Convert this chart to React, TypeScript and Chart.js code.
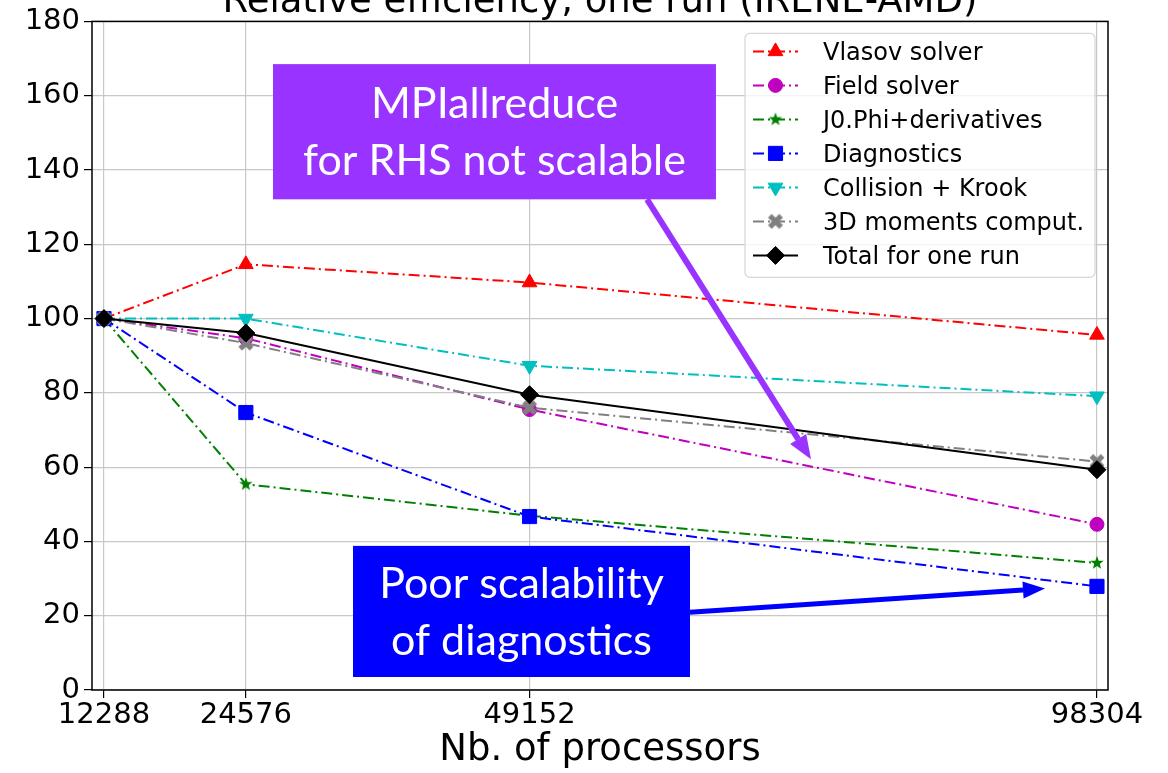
import React, { useEffect, useRef } from 'react';
import { Chart, registerables } from 'chart.js';

Chart.register(...registerables);

// ---- data -------------------------------------------------------------
const processors = [12288, 24576, 49152, 98304];
const xTickValues = [12288, 24576, 49152, 98304];
const yTickValues = [0, 20, 40, 60, 80, 100, 120, 140, 160, 180];

const seriesLabels = [
  'Vlasov solver',
  'Field solver',
  'J0.Phi+derivatives',
  'Diagnostics',
  'Collision + Krook',
  '3D moments comput.',
  'Total for one run',
];

const vlasovSolver = [100, 114.6, 109.7, 95.6];
const fieldSolver = [100, 94.7, 75.5, 44.6];
const j0PhiDerivatives = [100, 55.4, 46.9, 34.2];
const diagnostics = [100, 74.7, 46.7, 27.9];
const collisionKrook = [100, 100, 87.3, 79.1];
const moments3d = [100, 93.4, 76.0, 61.5];
const totalOneRun = [100, 96.1, 79.5, 59.3];

const titleText = 'Relative efficiency, one run (IRENE-AMD)';
const xAxisTitle = 'Nb. of processors';

// callouts, anchored in data units (processors, efficiency %)
const rhsCalloutLines = ['MPIallreduce', 'for RHS not scalable'];
const rhsCalloutBox = [26930, 65300, 168.5, 132.1]; // xMin, xMax, yMax, yMin
const rhsArrowFrom = [59330, 132.1];
const rhsArrowTo = [73530, 62.1];

const diagCalloutLines = ['Poor scalability', 'of diagnostics'];
const diagCalloutBox = [33860, 63050, 38.8, 3.5];
const diagArrowFrom = [63050, 20.9];
const diagArrowTo = [93800, 27.3];

// ---- styles -----------------------------------------------------------
const DEJAVU = "'DejaVu Sans', sans-serif";
const CALLOUT_FONT = "Lato, 'Open Sans', sans-serif";
const DASH_DOT = [11, 4, 2, 4];

function markerCanvas(size: number, draw: (ctx: CanvasRenderingContext2D) => void) {
  const c = document.createElement('canvas');
  c.width = size;
  c.height = size;
  const ctx = c.getContext('2d') as CanvasRenderingContext2D;
  ctx.translate(size / 2, size / 2);
  draw(ctx);
  return c;
}

function starMarker(color: string) {
  return markerCanvas(16, (ctx) => {
    ctx.beginPath();
    for (let i = 0; i < 10; i++) {
      const r = i % 2 === 0 ? 7 : 2.9;
      const a = -Math.PI / 2 + (i * Math.PI) / 5;
      ctx.lineTo(r * Math.cos(a), r * Math.sin(a));
    }
    ctx.closePath();
    ctx.fillStyle = color;
    ctx.fill();
  });
}

function filledXMarker(color: string) {
  return markerCanvas(18, (ctx) => {
    ctx.rotate(Math.PI / 4);
    const L = 8;
    const t = 2.6;
    ctx.beginPath();
    ctx.moveTo(-t, -L);
    ctx.lineTo(t, -L);
    ctx.lineTo(t, -t);
    ctx.lineTo(L, -t);
    ctx.lineTo(L, t);
    ctx.lineTo(t, t);
    ctx.lineTo(t, L);
    ctx.lineTo(-t, L);
    ctx.lineTo(-t, t);
    ctx.lineTo(-L, t);
    ctx.lineTo(-L, -t);
    ctx.lineTo(-t, -t);
    ctx.closePath();
    ctx.fillStyle = color;
    ctx.fill();
  });
}

type SeriesStyle = {
  color: string;
  dash: number[];
  pointStyle: any;
  radius: number;
  rotation: number;
};

function seriesStyles(): SeriesStyle[] {
  return [
    { color: '#ff0000', dash: DASH_DOT, pointStyle: 'triangle', radius: 8.5, rotation: 0 },
    { color: '#bf00bf', dash: DASH_DOT, pointStyle: 'circle', radius: 7, rotation: 0 },
    { color: '#008000', dash: DASH_DOT, pointStyle: starMarker('#008000'), radius: 7, rotation: 0 },
    { color: '#0000ff', dash: DASH_DOT, pointStyle: 'rect', radius: 10, rotation: 0 },
    { color: '#00bfbf', dash: DASH_DOT, pointStyle: 'triangle', radius: 8.5, rotation: 180 },
    { color: '#808080', dash: DASH_DOT, pointStyle: filledXMarker('#808080'), radius: 7, rotation: 0 },
    { color: '#000000', dash: [], pointStyle: 'rectRot', radius: 9, rotation: 0 },
  ];
}

// ---- drawing helpers --------------------------------------------------
function drawMarker(ctx: CanvasRenderingContext2D, style: SeriesStyle, x: number, y: number) {
  const ps = style.pointStyle;
  ctx.save();
  ctx.translate(x, y);
  ctx.rotate((style.rotation * Math.PI) / 180);
  ctx.fillStyle = style.color;
  ctx.strokeStyle = style.color;
  ctx.lineWidth = 1;
  const r = style.radius;
  if (typeof ps !== 'string') {
    ctx.drawImage(ps, -ps.width / 2, -ps.height / 2);
    ctx.restore();
    return;
  }
  ctx.beginPath();
  if (ps === 'circle') {
    ctx.arc(0, 0, r, 0, Math.PI * 2);
  } else if (ps === 'triangle') {
    for (let i = 0; i < 3; i++) {
      const a = (i * 2 * Math.PI) / 3;
      ctx.lineTo(Math.sin(a) * r, -Math.cos(a) * r);
    }
  } else if (ps === 'rect') {
    const s = Math.SQRT1_2 * r;
    ctx.rect(-s, -s, 2 * s, 2 * s);
  } else if (ps === 'rectRot') {
    ctx.moveTo(-r, 0);
    ctx.lineTo(0, -r);
    ctx.lineTo(r, 0);
    ctx.lineTo(0, r);
  }
  ctx.closePath();
  ctx.fill();
  ctx.stroke();
  ctx.restore();
}

function drawArrow(
  ctx: CanvasRenderingContext2D,
  x0: number, y0: number, x1: number, y1: number,
  color: string, width: number, headLen: number, headWidth: number,
) {
  const ang = Math.atan2(y1 - y0, x1 - x0);
  const bx = x1 - headLen * Math.cos(ang);
  const by = y1 - headLen * Math.sin(ang);
  ctx.save();
  ctx.strokeStyle = color;
  ctx.fillStyle = color;
  ctx.lineWidth = width;
  ctx.beginPath();
  ctx.moveTo(x0, y0);
  ctx.lineTo(bx, by);
  ctx.stroke();
  ctx.beginPath();
  ctx.moveTo(x1, y1);
  ctx.lineTo(bx + (headWidth / 2) * Math.sin(ang), by - (headWidth / 2) * Math.cos(ang));
  ctx.lineTo(bx - (headWidth / 2) * Math.sin(ang), by + (headWidth / 2) * Math.cos(ang));
  ctx.closePath();
  ctx.fill();
  ctx.restore();
}

// ---- plugins ----------------------------------------------------------
const titlePlugin = {
  id: 'cutTitle',
  afterDraw(chart: any) {
    const { ctx, chartArea: a } = chart;
    ctx.save();
    ctx.font = `37px ${DEJAVU}`;
    ctx.fillStyle = '#000';
    ctx.textAlign = 'center';
    ctx.textBaseline = 'alphabetic';
    ctx.fillText(titleText, (a.left + a.right) / 2, a.top - 9);
    ctx.restore();
  },
};

const framePlugin = {
  id: 'frame',
  afterDatasetsDraw(chart: any) {
    const { ctx, chartArea: a } = chart;
    ctx.save();
    ctx.strokeStyle = '#000';
    ctx.lineWidth = 1.5;
    ctx.strokeRect(a.left, a.top, a.right - a.left, a.bottom - a.top);
    ctx.restore();
  },
};

const legendPlugin = {
  id: 'boxLegend',
  afterDatasetsDraw(chart: any) {
    const { ctx, chartArea: a } = chart;
    const styles = seriesStyles();
    const w = 350;
    const h = 244;
    const left = a.right - 13 - w;
    const top = a.top + 12;
    ctx.save();
    ctx.beginPath();
    ctx.roundRect(left, top, w, h, 5);
    ctx.fillStyle = 'rgba(255,255,255,0.8)';
    ctx.fill();
    ctx.strokeStyle = '#d6d6d6';
    ctx.lineWidth = 1.2;
    ctx.stroke();
    seriesLabels.forEach((label, i) => {
      const st = styles[i];
      const cy = top + 18 + i * 34;
      ctx.save();
      ctx.strokeStyle = st.color;
      ctx.lineWidth = 2;
      ctx.setLineDash(st.dash);
      ctx.beginPath();
      ctx.moveTo(left + 8, cy);
      ctx.lineTo(left + 53, cy);
      ctx.stroke();
      ctx.restore();
      drawMarker(ctx, st, left + 30.5, cy);
      ctx.font = `24px ${DEJAVU}`;
      ctx.fillStyle = '#000';
      ctx.textAlign = 'left';
      ctx.textBaseline = 'alphabetic';
      ctx.fillText(label, left + 78, cy + 8.7);
    });
    ctx.restore();
  },
};

function drawCallout(
  chart: any, lines: string[], box: number[], from: number[], to: number[],
  color: string, arrowWidth: number, headLen: number, headWidth: number,
) {
  const { ctx, scales } = chart;
  const x0 = scales.x.getPixelForValue(box[0]);
  const x1 = scales.x.getPixelForValue(box[1]);
  const y0 = scales.y.getPixelForValue(box[2]);
  const y1 = scales.y.getPixelForValue(box[3]);
  ctx.save();
  drawArrow(
    ctx,
    scales.x.getPixelForValue(from[0]), scales.y.getPixelForValue(from[1]),
    scales.x.getPixelForValue(to[0]), scales.y.getPixelForValue(to[1]),
    color, arrowWidth, headLen, headWidth,
  );
  ctx.fillStyle = color;
  ctx.fillRect(x0, y0, x1 - x0, y1 - y0);
  ctx.fillStyle = '#ffffff';
  ctx.font = `43px ${CALLOUT_FONT}`;
  ctx.textAlign = 'center';
  ctx.textBaseline = 'alphabetic';
  const cx = (x0 + x1) / 2;
  const cy = (y0 + y1) / 2;
  const lh = 57;
  lines.forEach((ln, i) => {
    const base = cy + 15 + (i - (lines.length - 1) / 2) * lh;
    ctx.fillText(ln, cx, base);
  });
  ctx.restore();
}

const calloutPlugin = {
  id: 'callouts',
  afterDraw(chart: any) {
    drawCallout(chart, rhsCalloutLines, rhsCalloutBox, rhsArrowFrom, rhsArrowTo, '#9933ff', 6, 24, 19);
    drawCallout(chart, diagCalloutLines, diagCalloutBox, diagArrowFrom, diagArrowTo, '#0000ff', 5, 22, 17);
  },
};

// ---- component --------------------------------------------------------
export default function App() {
  const canvasRef = useRef<HTMLCanvasElement | null>(null);

  useEffect(() => {
    const canvas = canvasRef.current;
    if (!canvas) return;
    const styles = seriesStyles();
    const values = [vlasovSolver, fieldSolver, j0PhiDerivatives, diagnostics, collisionKrook, moments3d, totalOneRun];

    const datasets = values.map((vals, i) => {
      const st = styles[i];
      return {
        label: seriesLabels[i],
        data: processors.map((p, k) => ({ x: p, y: vals[k] })),
        borderColor: st.color,
        backgroundColor: st.color,
        borderWidth: 2,
        borderDash: st.dash,
        pointStyle: st.pointStyle,
        pointRadius: st.radius,
        pointRotation: st.rotation,
        pointBackgroundColor: st.color,
        pointBorderColor: st.color,
        pointBorderWidth: 1,
        tension: 0,
        fill: false,
        order: values.length - i,
      };
    });

    const chart = new Chart(canvas, {
      type: 'line',
      data: { datasets },
      options: {
        animation: false,
        responsive: false,
        maintainAspectRatio: false,
        events: [],
        layout: { padding: { top: 18, right: 60, left: 0, bottom: 0 } },
        plugins: {
          legend: { display: false },
          tooltip: { enabled: false },
          title: { display: false },
        },
        scales: {
          x: {
            type: 'linear',
            min: 11250,
            max: 99260,
            afterBuildTicks: (axis: any) => {
              axis.ticks = xTickValues.map((v) => ({ value: v }));
            },
            afterFit: (axis: any) => {
              axis.height = 83;
            },
            ticks: {
              autoSkip: false,
              maxRotation: 0,
              padding: 0,
              color: '#000',
              font: { family: DEJAVU, size: 29 },
              callback: (v: any) => String(v),
            },
            grid: {
              color: '#c8c8c8',
              lineWidth: 1.2,
              tickColor: '#000',
              tickLength: 8,
              tickWidth: 1.2,
            },
            border: { display: false },
            title: {
              display: true,
              text: xAxisTitle,
              color: '#000',
              font: { family: DEJAVU, size: 37 },
              padding: { top: 0, bottom: 0 },
            },
          },
          y: {
            type: 'linear',
            min: 0,
            max: 180,
            afterBuildTicks: (axis: any) => {
              axis.ticks = yTickValues.map((v) => ({ value: v }));
            },
            afterFit: (axis: any) => {
              axis.width = 92;
            },
            ticks: {
              padding: 4,
              color: '#000',
              font: { family: DEJAVU, size: 29 },
              callback: (v: any) => String(v),
            },
            grid: {
              color: '#c8c8c8',
              lineWidth: 1.2,
              tickColor: '#000',
              tickLength: 8,
              tickWidth: 1.2,
            },
            border: { display: false },
          },
        },
      },
      plugins: [framePlugin, legendPlugin, titlePlugin, calloutPlugin],
    } as any);

    return () => chart.destroy();
  }, []);

  return (
    <div style={{ position: 'absolute', left: 0, top: 0, width: 1168, height: 773, background: '#fff' }}>
      <canvas ref={canvasRef} width={1168} height={773} />
    </div>
  );
}
